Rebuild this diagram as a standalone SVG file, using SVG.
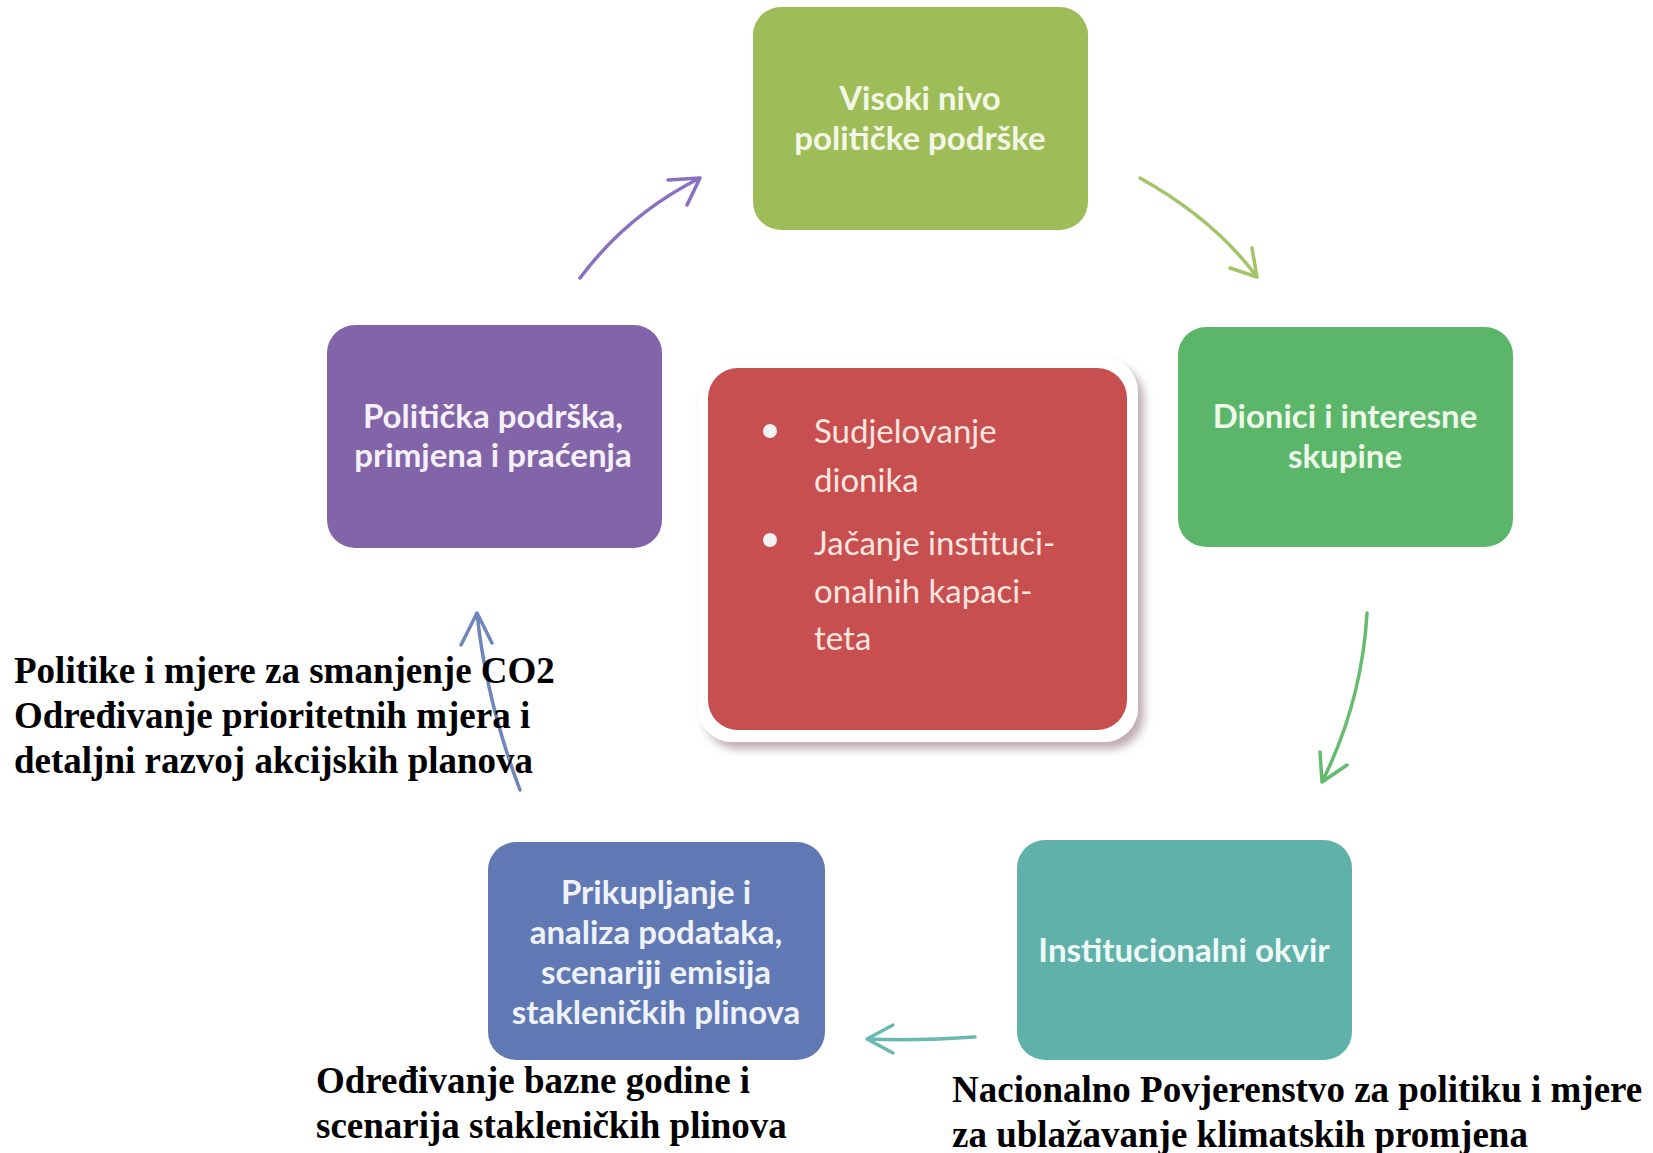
<svg xmlns="http://www.w3.org/2000/svg" width="1653" height="1153" viewBox="0 0 1653 1153">
<style>
.box-text{font-family:Lato,"Open Sans",sans-serif;font-size:33px;font-weight:bold;text-anchor:middle}
.red-text{font-family:Lato,"Open Sans",sans-serif;font-size:33px;fill:#fbe6e0}
.note{font-family:"Liberation Serif","Times New Roman",serif;font-size:37px;font-weight:bold;fill:#000}
.conn{fill:none;stroke-width:3.5;stroke-linecap:round;stroke-linejoin:round}
</style>
<defs>
<filter id="shadow" x="-10%" y="-10%" width="130%" height="130%">
<feGaussianBlur in="SourceAlpha" stdDeviation="4"/>
<feOffset dx="6" dy="7" result="o"/>
<feFlood flood-color="#8a6a72" flood-opacity="0.55"/>
<feComposite in2="o" operator="in"/>
<feMerge><feMergeNode/><feMergeNode in="SourceGraphic"/></feMerge>
</filter>
</defs>
<rect width="1653" height="1153" fill="#ffffff"/>

<g id="connectors">
<path class="conn" stroke="#8a70c0" d="M580,278 Q628,214 700,178 M668,180 L700,178 L687,205"/>
<path class="conn" stroke="#a3c46a" d="M1140,178 Q1215,220 1257,277 M1230,268 L1257,277 L1252,248"/>
<path class="conn" stroke="#64bc70" d="M1367,613 Q1362,702 1322,782 M1320,752 L1322,782 L1347,765"/>
<path class="conn" stroke="#6ab9b0" d="M975,1037 Q920,1041 867,1039 M893,1025 L867,1039 L893,1053"/>
<path class="conn" stroke="#6f86bb" stroke-width="3" d="M520,790 Q486,700 477,613 M461,645 L477,613 L492,643"/>
</g>

<g id="node-visoki">
<rect x="753" y="7" width="335" height="223" rx="28" fill="#9ebd59"/>
<text class="box-text" fill="#f3f8e6"><tspan x="920" y="110">Visoki nivo</tspan><tspan x="920" y="150">političke podrške</tspan></text>
</g>

<g id="node-dionici">
<rect x="1178" y="327" width="335" height="220" rx="28" fill="#5cb66a"/>
<text class="box-text" fill="#eef9ea"><tspan x="1345" y="428">Dionici i interesne</tspan><tspan x="1345" y="468">skupine</tspan></text>
</g>

<g id="node-institucionalni">
<rect x="1017" y="840" width="335" height="220" rx="28" fill="#60b1aa"/>
<text class="box-text" fill="#effaf7"><tspan x="1184" y="962">Institucionalni okvir</tspan></text>
</g>

<g id="node-prikupljanje">
<rect x="488" y="842" width="337" height="218" rx="28" fill="#6078b4"/>
<text class="box-text" fill="#f0f2fa"><tspan x="656" y="904">Prikupljanje i</tspan><tspan x="656" y="944">analiza podataka,</tspan><tspan x="656" y="984">scenariji emisija</tspan><tspan x="656" y="1024">stakleničkih plinova</tspan></text>
</g>

<g id="node-politicka">
<rect x="327" y="325" width="335" height="223" rx="28" fill="#8264a8"/>
<text class="box-text" fill="#f6f0fa"><tspan x="493" y="428">Politička podrška,</tspan><tspan x="493" y="467">primjena i praćenja</tspan></text>
</g>

<g id="node-center">
<rect x="698" y="358" width="440" height="384" rx="34" fill="#ffffff" filter="url(#shadow)"/>
<rect x="708" y="368" width="419" height="362" rx="30" fill="#c84f4f"/>
<circle cx="770" cy="431" r="7" fill="#f3f3f3"/>
<circle cx="770" cy="540" r="7" fill="#f3f3f3"/>
<text class="red-text"><tspan x="814" y="443">Sudjelovanje</tspan><tspan x="814" y="492">dionika</tspan><tspan x="814" y="555">Jačanje instituci-</tspan><tspan x="814" y="603">onalnih kapaci-</tspan><tspan x="814" y="650">teta</tspan></text>
</g>

<g id="label-politike">
<text class="note"><tspan x="14" y="683">Politike i mjere za smanjenje CO2</tspan><tspan x="14" y="728">Određivanje prioritetnih mjera i</tspan><tspan x="14" y="773">detaljni razvoj akcijskih planova</tspan></text>
</g>
<g id="label-odredivanje">
<text class="note"><tspan x="316" y="1093">Određivanje bazne godine i</tspan><tspan x="316" y="1138">scenarija stakleničkih plinova</tspan></text>
</g>
<g id="label-nacionalno">
<text class="note"><tspan x="952" y="1102">Nacionalno Povjerenstvo za politiku i mjere</tspan><tspan x="952" y="1147">za ublažavanje klimatskih promjena</tspan></text>
</g>
</svg>
